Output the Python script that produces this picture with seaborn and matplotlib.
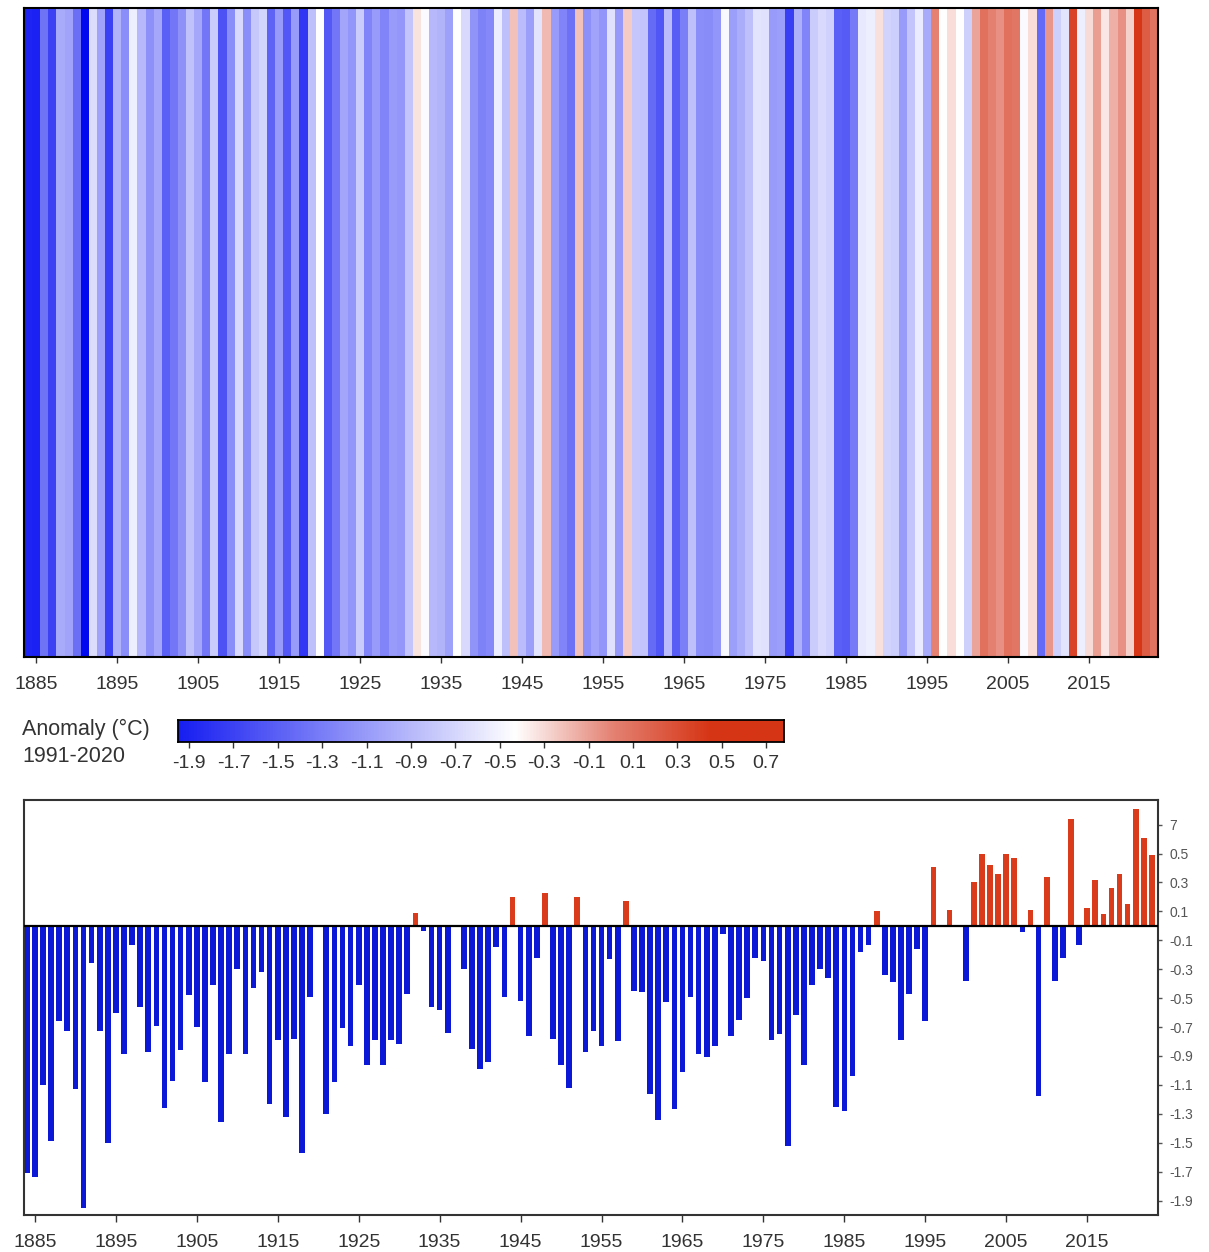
import numpy as np
import pandas as pd
import seaborn as sns
import matplotlib.pyplot as plt
from matplotlib.colors import LinearSegmentedColormap, TwoSlopeNorm

# =====================================================
# DATA (anomaly vs 1991-2020)
# =====================================================
years = list(range(1884, 2024))

anomaly = [
    -1.71, -1.74, -1.10, -1.49, -0.66, -0.73, -1.13, -1.95, -0.26, -0.73,   # 1884-1893
    -1.50, -0.60, -0.89, -0.13, -0.56, -0.87, -0.69, -1.26, -1.07, -0.86,   # 1894-1903
    -0.48, -0.70, -1.08, -0.41, -1.36, -0.89, -0.30, -0.89, -0.43, -0.32,   # 1904-1913
    -1.23, -0.79, -1.32, -0.78, -1.57, -0.49, 0.00, -1.30, -1.08, -0.71,    # 1914-1923
    -0.83, -0.41, -0.96, -0.79, -0.96, -0.79, -0.82, -0.47, 0.09, -0.035,   # 1924-1933
    -0.56, -0.58, -0.74, 0.00, -0.30, -0.85, -0.99, -0.94, -0.15, -0.49,    # 1934-1943
    0.20, -0.52, -0.76, -0.22, 0.23, -0.78, -0.96, -1.12, 0.20, -0.87,      # 1944-1953
    -0.73, -0.83, -0.23, -0.80, 0.17, -0.45, -0.46, -1.16, -1.34, -0.53,    # 1954-1963
    -1.27, -1.01, -0.49, -0.89, -0.91, -0.83, -0.06, -0.76, -0.65, -0.50,   # 1964-1973
    -0.22, -0.24, -0.79, -0.75, -1.52, -0.62, -0.96, -0.41, -0.30, -0.36,   # 1974-1983
    -1.25, -1.28, -1.04, -0.18, -0.13, 0.10, -0.34, -0.39, -0.79, -0.47,    # 1984-1993
    -0.16, -0.66, 0.41, 0.00, 0.11, -0.01, -0.38, 0.30, 0.50, 0.42,         # 1994-2003
    0.36, 0.50, 0.47, -0.04, 0.11, -1.18, 0.34, -0.38, -0.22, 0.74,         # 2004-2013
    -0.13, 0.12, 0.32, 0.08, 0.26, 0.36, 0.15, 0.81, 0.61, 0.49,            # 2014-2023
]

tick_years = [1885, 1895, 1905, 1915, 1925, 1935, 1945, 1955, 1965, 1975, 1985, 1995, 2005, 2015]
cbar_ticks = [-1.9, -1.7, -1.5, -1.3, -1.1, -0.9, -0.7, -0.5, -0.3, -0.1, 0.1, 0.3, 0.5, 0.7]
bar_yticks = [0.7, 0.5, 0.3, 0.1, -0.1, -0.3, -0.5, -0.7, -0.9, -1.1, -1.3, -1.5, -1.7, -1.9]
bar_ylabels = ["7", "0.5", "0.3", "0.1", "-0.1", "-0.3", "-0.5", "-0.7", "-0.9",
               "-1.1", "-1.3", "-1.5", "-1.7", "-1.9"]

assert len(anomaly) == len(years)

df = pd.DataFrame({"year": years, "anomaly": anomaly})
df["sign"] = np.where(df["anomaly"] >= 0, "warm", "cold")

# =====================================================
# STYLE
# =====================================================
sns.set_style("ticks")
plt.rcParams["font.family"] = ["Liberation Sans", "DejaVu Sans"]

# blue -> white -> red, red half a bit steeper
cmap = LinearSegmentedColormap.from_list(
    "stripes",
    [(0.0, "#0008f0"), (0.5, "#ffffff"), (0.75, "#e48273"), (1.0, "#d63515")],
)
stripe_norm = TwoSlopeNorm(vmin=-1.95, vcenter=0.0, vmax=0.82)

W, H = 1209, 1252
fig = plt.figure(figsize=(W / 100, H / 100), dpi=100)


def px_axes(x0, y0, x1, y1):
    return fig.add_axes([x0 / W, 1 - y1 / H, (x1 - x0) / W, (y1 - y0) / H])


# =====================================================
# WARMING STRIPES
# =====================================================
ax_top = px_axes(24, 8, 1158, 657)
stripe_df = pd.DataFrame([anomaly], columns=years)
sns.heatmap(stripe_df, cmap=cmap, norm=stripe_norm, cbar=False,
            xticklabels=False, yticklabels=False, ax=ax_top)
for s in ax_top.spines.values():
    s.set_visible(True)
    s.set_color("black")
    s.set_linewidth(1.5)
ax_top.set_xticks([y - years[0] + 0.5 for y in tick_years])
ax_top.set_xticklabels([str(y) for y in tick_years])
ax_top.set_yticks([])
ax_top.tick_params(axis="x", length=4, width=1, colors="#333333", labelsize=14, pad=10)

# =====================================================
# COLORBAR
# =====================================================
ax_cb = px_axes(178, 720, 784, 742)
grad = np.linspace(-1.95, 0.78, 600)[None, :]
ax_cb.imshow(grad, aspect="auto", cmap=cmap,
             norm=TwoSlopeNorm(vmin=-2.1, vcenter=-0.43, vmax=0.45),
             extent=[-1.95, 0.78, 0, 1])
ax_cb.set_xticks(cbar_ticks)
ax_cb.set_xticklabels([f"{t:.1f}" for t in cbar_ticks])
ax_cb.set_yticks([])
ax_cb.tick_params(axis="x", length=4, width=1, colors="#333333", labelsize=14, pad=5)
for s in ax_cb.spines.values():
    s.set_color("black")
    s.set_linewidth(1.3)

fig.text(22 / W, 1 - 729 / H, "Anomaly (°C)", fontsize=15.5, color="#333333", va="center")
fig.text(22 / W, 1 - 757 / H, "1991-2020", fontsize=15.5, color="#333333", va="center")

# =====================================================
# BAR CHART
# =====================================================
ax_bot = px_axes(24, 800, 1158, 1215)
sns.barplot(data=df, x="year", y="anomaly", hue="sign",
            palette={"cold": "#0b18d6", "warm": "#d93b1b"},
            dodge=False, width=0.7, saturation=1, linewidth=0,
            legend=False, ax=ax_bot)
ax_bot.axhline(0, color="black", lw=1.6, zorder=3)
ax_bot.set_xlim(-0.35, len(years) - 0.25)
ax_bot.set_ylim(-2.0, 0.87)
ax_bot.set_xlabel("")
ax_bot.set_ylabel("")
ax_bot.set_xticks([y - years[0] for y in tick_years])
ax_bot.set_xticklabels([str(y) for y in tick_years])
ax_bot.yaxis.tick_right()
ax_bot.set_yticks(bar_yticks)
ax_bot.set_yticklabels(bar_ylabels)
ax_bot.tick_params(axis="x", length=5, width=1, colors="#333333", labelsize=14, pad=9)
ax_bot.tick_params(axis="y", length=3, width=1, colors="#555555", labelsize=10, pad=5)
for s in ax_bot.spines.values():
    s.set_visible(True)
    s.set_color("#333333")
    s.set_linewidth(1.5)

fig.savefig("out.png", dpi=100)
plt.close(fig)
